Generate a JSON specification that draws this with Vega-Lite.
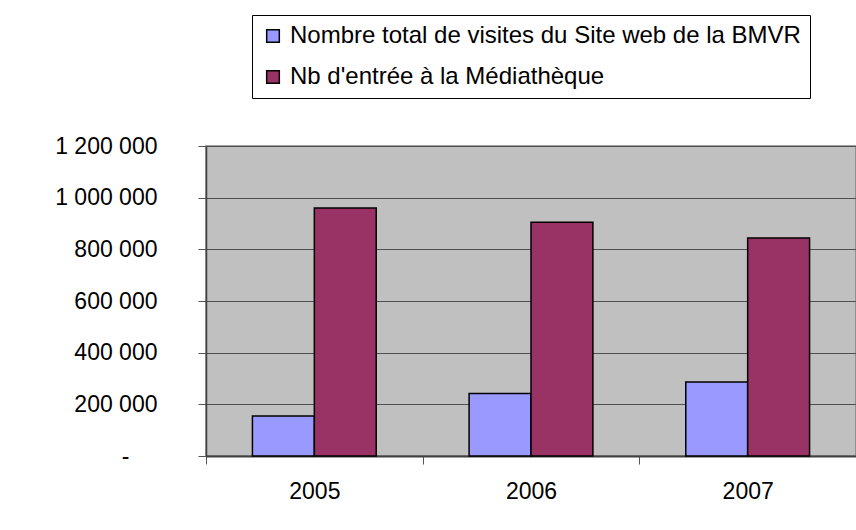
{
  "$schema": "https://vega.github.io/schema/vega-lite/v6.json",
  "autosize": "none",
  "padding": {"left": 206, "top": 146, "right": 0, "bottom": 74},
  "width": 650,
  "height": 310,
  "background": "white",
  "data": {
    "values": [
      {"annee": "2005", "serie": "Nombre total de visites du Site web de la BMVR", "valeur": 155000},
      {"annee": "2005", "serie": "Nb d'entrée à la Médiathèque", "valeur": 960000},
      {"annee": "2006", "serie": "Nombre total de visites du Site web de la BMVR", "valeur": 242000},
      {"annee": "2006", "serie": "Nb d'entrée à la Médiathèque", "valeur": 905000},
      {"annee": "2007", "serie": "Nombre total de visites du Site web de la BMVR", "valeur": 286000},
      {"annee": "2007", "serie": "Nb d'entrée à la Médiathèque", "valeur": 844000}
    ]
  },
  "mark": {"type": "bar", "stroke": "black", "strokeWidth": 1.5, "opacity": 1},
  "encoding": {
    "x": {
      "field": "annee",
      "type": "nominal",
      "scale": {"paddingInner": 0, "paddingOuter": 0},
      "axis": {
        "title": null,
        "labelAngle": 0,
        "tickBand": "extent",
        "labelFont": "Liberation Sans",
        "labelFontSize": 23,
        "labelColor": "black",
        "labelPadding": 16,
        "tickSize": 8,
        "tickColor": "#555555",
        "domainColor": "#404040",
        "domainWidth": 2,
        "grid": false
      }
    },
    "xOffset": {
      "field": "serie",
      "type": "nominal",
      "sort": ["Nombre total de visites du Site web de la BMVR", "Nb d'entrée à la Médiathèque"],
      "scale": {"paddingInner": 0, "paddingOuter": 0.75}
    },
    "y": {
      "field": "valeur",
      "type": "quantitative",
      "scale": {"domain": [0, 1200000], "nice": false},
      "axis": {
        "title": null,
        "values": [0, 200000, 400000, 600000, 800000, 1000000, 1200000],
        "labelExpr": "datum.value == 0 ? '-' : replace(replace(format(datum.value, ','), ',', ' '), ',', ' ')",
        "labelFont": "Liberation Sans",
        "labelFontSize": 23,
        "labelColor": "black",
        "labelPadding": {"condition": {"test": "datum.value == 0", "value": 69}, "value": 41},
        "tickSize": 8,
        "tickColor": "#555555",
        "domainColor": "#404040",
        "domainWidth": 1.5,
        "grid": true,
        "gridColor": "#505050",
        "gridWidth": 1,
        "gridOpacity": 1
      }
    },
    "color": {
      "field": "serie",
      "type": "nominal",
      "sort": ["Nombre total de visites du Site web de la BMVR", "Nb d'entrée à la Médiathèque"],
      "scale": {
        "domain": ["Nombre total de visites du Site web de la BMVR", "Nb d'entrée à la Médiathèque"],
        "range": ["#9999FF", "#993366"]
      },
      "legend": {
        "title": null,
        "orient": "none",
        "legendX": 46,
        "legendY": -131,
        "direction": "vertical",
        "fillColor": "white",
        "strokeColor": "black",
        "padding": 9,
        "rowPadding": 17,
        "symbolType": "square",
        "symbolSize": 160,
        "symbolStrokeColor": "black",
        "symbolStrokeWidth": 1.5,
        "symbolOpacity": 1,
        "labelFont": "Liberation Sans",
        "labelFontSize": 24,
        "labelColor": "black",
        "labelOffset": 5,
        "labelLimit": 700
      }
    }
  },
  "config": {
    "view": {"fill": "#C0C0C0", "stroke": "#808080", "strokeWidth": 1.5}
  }
}
